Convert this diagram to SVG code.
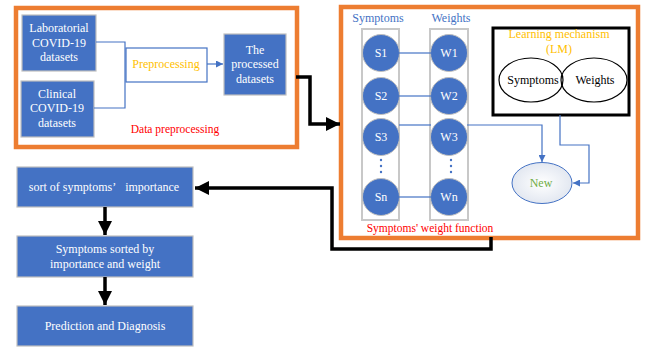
<svg xmlns="http://www.w3.org/2000/svg" width="645" height="349" viewBox="0 0 645 349">
<style>
.t{font-family:"Liberation Serif","Times New Roman",serif;text-anchor:middle}
.w{fill:#fff;font-size:12px}
.box{fill:#4472C4;stroke:#BFBFBF;stroke-width:1.2}
.orange{fill:#fff;stroke:#ED7D31;stroke-width:4.5}
.blk{fill:none;stroke:#000;stroke-width:3.5}
.bl{fill:none;stroke:#4472C4;stroke-width:1.2}
.circ{fill:#4472C4;stroke:#BFBFBF;stroke-width:1}
.col{fill:none;stroke:#C8C8C8;stroke-width:2}
</style>
<defs>
<marker id="big" viewBox="0 0 10 10" refX="10" refY="5" markerWidth="14" markerHeight="15" markerUnits="userSpaceOnUse" orient="auto">
<path d="M0,0L10,5L0,10z" fill="#000"/>
</marker>
<marker id="sm" viewBox="0 0 10 10" refX="10" refY="5" markerWidth="7" markerHeight="7" markerUnits="userSpaceOnUse" orient="auto">
<path d="M0,0L10,5L0,10z" fill="#4472C4"/>
</marker>
<radialGradient id="ng" cx="0.5" cy="0.5" r="0.6">
<stop offset="0" stop-color="#ffffff"/>
<stop offset="1" stop-color="#DDE3EE"/>
</radialGradient>
</defs>
<rect width="645" height="349" fill="#fff"/>

<g id="data-preprocessing">
<rect class="orange" x="16" y="8" width="281" height="139"/>
<text class="t" x="175" y="133" font-size="11.5" fill="#FF0000">Data preprocessing</text>
</g>
<g id="weight-function">
<rect class="orange" x="341" y="7" width="297" height="231"/>
<text class="t" x="430" y="232" font-size="11.5" fill="#FF0000">Symptoms' weight function</text>
</g>

<g id="laboratorial">
<rect class="box" x="22" y="15" width="74" height="56"/>
<text class="t w" x="59" y="32">Laboratorial</text>
<text class="t w" x="59" y="47">COVID-19</text>
<text class="t w" x="59" y="61">datasets</text>
</g>
<g id="clinical">
<rect class="box" x="21" y="81" width="73" height="56"/>
<text class="t w" x="57" y="98">Clinical</text>
<text class="t w" x="57" y="112">COVID-19</text>
<text class="t w" x="57" y="127">datasets</text>
</g>
<g id="preprocessing">
<rect x="126" y="48" width="81" height="34" fill="#fff" stroke="#4472C4" stroke-width="1.2"/>
<text class="t" x="166" y="68" font-size="12" fill="#FFC000">Preprocessing</text>
</g>
<g id="processed">
<rect class="box" x="224" y="34" width="62" height="61"/>
<text class="t w" x="255" y="54">The</text>
<text class="t w" x="255" y="68">processed</text>
<text class="t w" x="255" y="83">datasets</text>
</g>

<g id="symptoms-col">
<text class="t" x="378" y="22" font-size="12" fill="#4472C4">Symptoms</text>
<rect class="col" x="362" y="29" width="37" height="191"/>
<g id="s1"><circle class="circ" cx="381" cy="53" r="18.5"/><text class="t w" x="381" y="57">S1</text></g>
<g id="s2"><circle class="circ" cx="381" cy="96" r="18.5"/><text class="t w" x="381" y="100">S2</text></g>
<g id="s3"><circle class="circ" cx="381" cy="137" r="18.5"/><text class="t w" x="381" y="141">S3</text></g>
<g id="sn"><circle class="circ" cx="381" cy="197" r="18.5"/><text class="t w" x="381" y="201">Sn</text></g>
<circle cx="381" cy="160" r="1.2" fill="#4472C4"/><circle cx="381" cy="166" r="1.2" fill="#4472C4"/><circle cx="381" cy="172" r="1.2" fill="#4472C4"/>
</g>
<g id="weights-col">
<text class="t" x="451" y="22" font-size="12" fill="#4472C4">Weights</text>
<rect class="col" x="430" y="29" width="38" height="191"/>
<g id="w1"><circle class="circ" cx="449" cy="53" r="18.5"/><text class="t w" x="449" y="57">W1</text></g>
<g id="w2"><circle class="circ" cx="449" cy="96" r="18.5"/><text class="t w" x="449" y="100">W2</text></g>
<g id="w3"><circle class="circ" cx="449" cy="137" r="18.5"/><text class="t w" x="449" y="141">W3</text></g>
<g id="wn"><circle class="circ" cx="449" cy="197" r="18.5"/><text class="t w" x="449" y="201">Wn</text></g>
<circle cx="451" cy="160" r="1.2" fill="#4472C4"/><circle cx="451" cy="166" r="1.2" fill="#4472C4"/><circle cx="451" cy="172" r="1.2" fill="#4472C4"/>
</g>

<g id="lm">
<rect x="493" y="28" width="136" height="87" fill="#fff" stroke="#000" stroke-width="3"/>
<text class="t" x="559" y="38" font-size="12" fill="#FFC000">Learning mechanism</text>
<text class="t" x="559" y="53" font-size="12" fill="#FFC000">(LM)</text>
<ellipse cx="531" cy="80" rx="32" ry="22" fill="none" stroke="#000" stroke-width="1.2"/>
<ellipse cx="594" cy="80" rx="33" ry="22" fill="none" stroke="#000" stroke-width="1.2"/>
<text class="t" x="533" y="84" font-size="12" fill="#000">Symptoms</text>
<text class="t" x="595" y="84" font-size="12" fill="#000">Weights</text>
</g>
<g id="new">
<ellipse cx="542" cy="183" rx="30" ry="20.5" fill="url(#ng)" stroke="#4472C4" stroke-width="1"/>
<text class="t" x="541" y="187" font-size="12" fill="#70AD47">New</text>
</g>

<g id="sort">
<rect class="box" x="17" y="167" width="176" height="40"/>
<text class="t w" x="104" y="191" font-size="11.5">sort of symptoms’&#160;&#160; importance</text>
</g>
<g id="sorted">
<rect class="box" x="17" y="236" width="176" height="41"/>
<text class="t w" x="105" y="253" font-size="11.5">Symptoms sorted by</text>
<text class="t w" x="105" y="268" font-size="11.5">importance and weight</text>
</g>
<g id="prediction">
<rect class="box" x="17" y="306" width="176" height="40"/>
<text class="t w" x="105" y="330" font-size="11.5">Prediction and Diagnosis</text>
</g>

<g id="connectors">
<polyline class="bl" points="96,42 125,42 125,108 94,108"/>
<line class="bl" x1="207" y1="64" x2="223" y2="64" marker-end="url(#sm)"/>
<line class="bl" x1="399" y1="53" x2="431" y2="53"/>
<line class="bl" x1="399" y1="96" x2="431" y2="96"/>
<line class="bl" x1="399" y1="125" x2="431" y2="125"/>
<line class="bl" x1="399" y1="197" x2="431" y2="197"/>
<polyline class="bl" points="467,125 542,125 542,162" marker-end="url(#sm)"/>
<polyline class="bl" points="560,115 560,145 589,145 589,183 573,183" marker-end="url(#sm)"/>
<polyline class="blk" points="296,77 310,77 310,124 340,124" marker-end="url(#big)"/>
<polyline class="blk" points="491,237 491,249 332,249 332,188 195,188" marker-end="url(#big)"/>
<line class="blk" x1="105" y1="207" x2="105" y2="235" marker-end="url(#big)"/>
<line class="blk" x1="105" y1="277" x2="105" y2="305" marker-end="url(#big)"/>
</g>
</svg>
